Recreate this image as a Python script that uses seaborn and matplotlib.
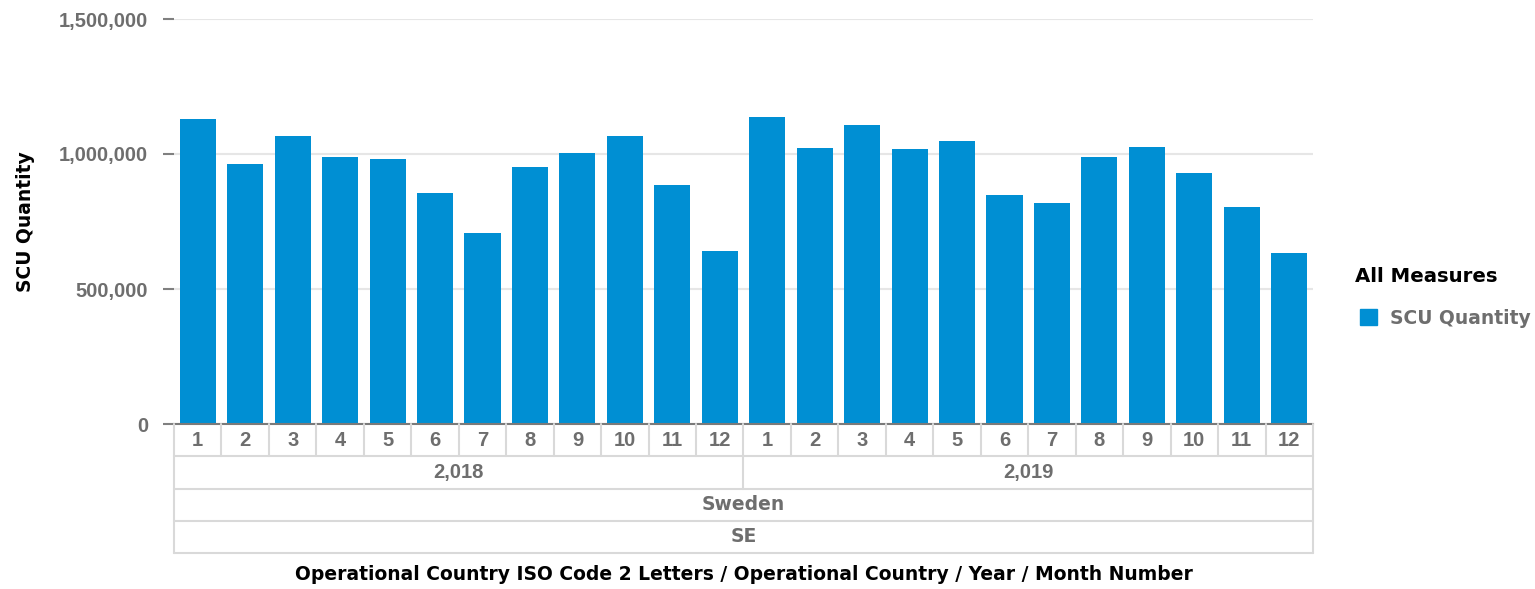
import matplotlib
matplotlib.use("Agg")
import matplotlib.pyplot as plt
import seaborn as sns
import pandas as pd
from matplotlib.patches import Patch

years = [2018, 2019]
months = list(range(1, 13))
qty_2018 = [1130000, 963000, 1066000, 989000, 981000, 856000, 707000, 952000, 1004000, 1066000, 885000, 641000]
qty_2019 = [1137000, 1022000, 1107000, 1018000, 1048000, 848000, 818000, 989000, 1026000, 930000, 804000, 633000]
country = "Sweden"
iso = "SE"
yticks = [0, 500000, 1000000, 1500000]

rows = []
for yr, vals in zip(years, [qty_2018, qty_2019]):
    for m, v in zip(months, vals):
        rows.append({"key": f"{yr}-{m}", "year": yr, "month": m, "SCU Quantity": v})
df = pd.DataFrame(rows)

sns.set_theme(style="white")
plt.rcParams["font.family"] = ["DejaVu Sans"]

NUM_FAMILY = ["Liberation Sans", "DejaVu Sans"]
FS_NUM = 14.5
FS_TXT = 13.5
W, H = 1535, 589
fig = plt.figure(figsize=(W / 100, H / 100), dpi=100)
L, R, B, T = 174, 1313, 424, 19
ax = fig.add_axes([L / W, 1 - B / H, (R - L) / W, (B - T) / H])

bar_color = "#008FD3"
gray_txt = "#6e6e6e"
sns.barplot(data=df, x="key", y="SCU Quantity", order=list(df["key"]), color=bar_color,
            width=0.76, ax=ax, linewidth=0, saturation=1)
ax.set_xlim(-0.5, len(df) - 0.5)
ax.set_ylim(0, 1500000)
ax.set_yticks(yticks)
ax.set_yticklabels([f"{v:,}" for v in yticks], fontsize=FS_NUM, fontweight="bold",
                   color=gray_txt, family=NUM_FAMILY)
ax.tick_params(axis="y", left=True, length=8, width=1.5, color="#808080", pad=10.5, direction="out")
ax.set_xticks([])
ax.set_xlabel("")
ax.set_ylabel("SCU Quantity", fontsize=FS_TXT, fontweight="bold", color="black")
ax.yaxis.set_label_coords((35 - L) / (R - L), 0.5)
ax.grid(axis="y", color="#e6e6e6", linewidth=1.5)
ax.set_axisbelow(True)
for s in ["top", "right", "left"]:
    ax.spines[s].set_visible(False)
ax.spines["bottom"].set_color("#7a7a7a")
ax.spines["bottom"].set_linewidth(1.5)

# hierarchical axis table
TB = 553
tax = fig.add_axes([L / W, 1 - TB / H, (R - L) / W, (TB - B) / H])
n = len(df)
tax.set_xlim(-0.5, n - 0.5)
tax.set_ylim(4, 0)
tax.axis("off")
lc = "#d9d9d9"
lw = 1.5
for yv in [1, 2, 3, 4]:
    tax.plot([-0.5, n - 0.5], [yv, yv], color=lc, lw=lw, clip_on=False)
for xv in [-0.5, n - 0.5]:
    tax.plot([xv, xv], [0, 4], color=lc, lw=lw, clip_on=False)
for i in range(1, n):
    tax.plot([i - 0.5, i - 0.5], [0, 1], color=lc, lw=lw, clip_on=False)
tax.plot([11.5, 11.5], [1, 2], color=lc, lw=lw, clip_on=False)
nfont = dict(fontsize=FS_NUM, fontweight="bold", color=gray_txt, ha="center", va="center",
             family=NUM_FAMILY)
tfont = dict(fontsize=FS_TXT, fontweight="bold", color=gray_txt, ha="center", va="center")
for i, m in enumerate(df["month"]):
    tax.text(i, 0.5, str(m), **nfont)
for j, yr in enumerate(years):
    tax.text(j * 12 + 5.5, 1.5, f"{yr:,}", **nfont)
tax.text((n - 1) / 2, 2.5, country, **tfont)
tax.text((n - 1) / 2, 3.5, iso, **tfont)

fig.text(((L + R) / 2) / W, 1 - 575 / H,
         "Operational Country ISO Code 2 Letters / Operational Country / Year / Month Number",
         fontsize=FS_TXT, fontweight="bold", color="black", ha="center", va="center")

# legend
fig.text(1355 / W, 1 - 277 / H, "All Measures", fontsize=14.2, fontweight="bold",
         color="black", ha="left", va="center")
handles = [Patch(facecolor=bar_color, edgecolor=bar_color, label="SCU Quantity")]
leg = fig.legend(handles=handles, loc="center left",
                 bbox_to_anchor=(1360 / W, 1 - 318 / H), frameon=False,
                 prop={"size": FS_TXT, "weight": "bold"}, handlelength=0.9, handleheight=0.9,
                 handletextpad=0.7, borderpad=0, borderaxespad=0)
for t in leg.get_texts():
    t.set_color(gray_txt)

fig.savefig("out.png", dpi=100, facecolor="white")
